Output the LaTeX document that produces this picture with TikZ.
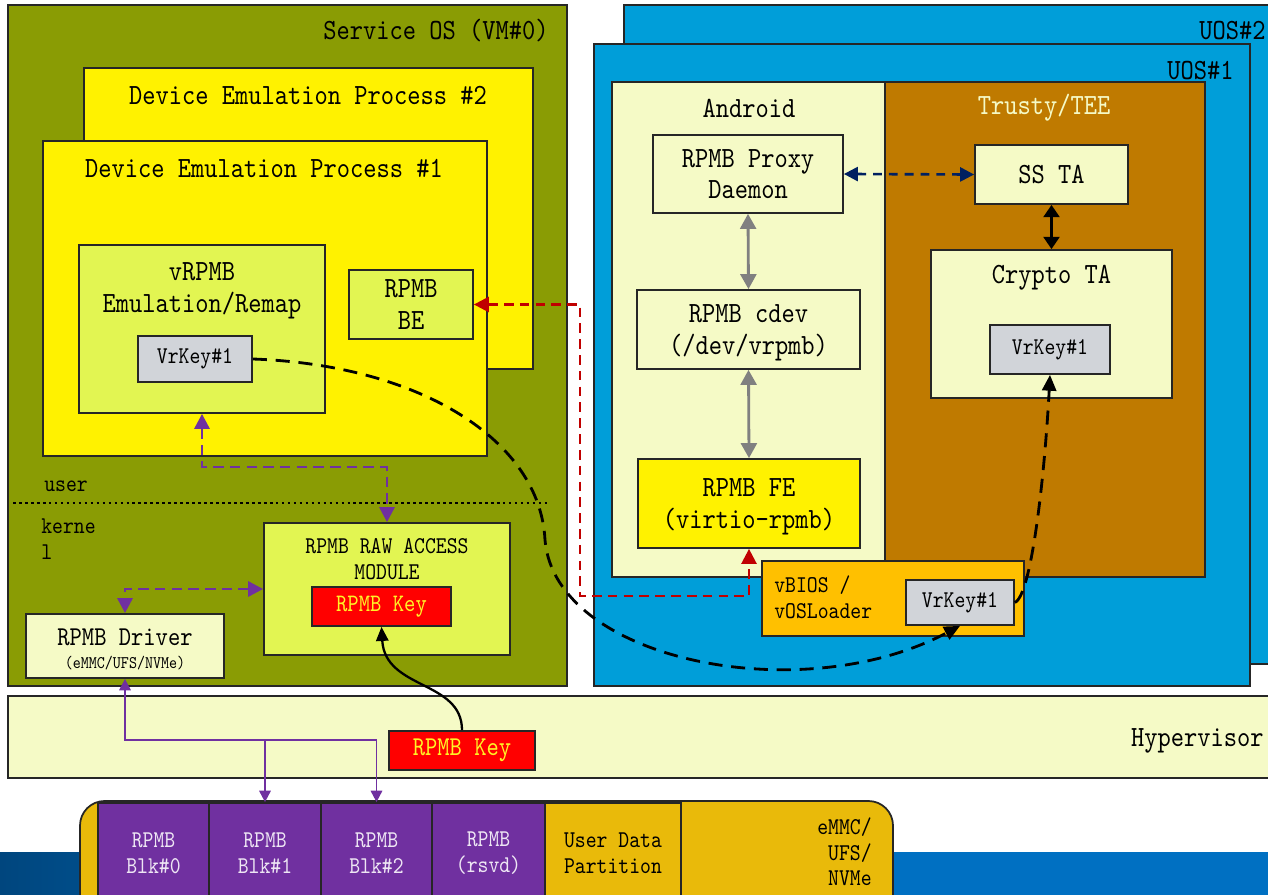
\documentclass[tikz,border=0pt]{standalone}
\usepackage{fontspec}
\setmonofont{lmmono10-regular.otf}[FakeStretch=0.86]
\usetikzlibrary{arrows.meta}

\definecolor{sosgreen}{HTML}{8A9C04}
\definecolor{uosblue}{HTML}{009ED9}
\definecolor{trusty}{HTML}{BF7A00}
\definecolor{cream}{HTML}{F5FAC6}
\definecolor{limey}{HTML}{E2F552}
\definecolor{keygray}{HTML}{D1D4D9}
\definecolor{vbiosorange}{HTML}{FFC000}
\definecolor{gold}{HTML}{E9BA0A}
\definecolor{blkpurple}{HTML}{7030A0}
\definecolor{navy}{HTML}{002060}
\definecolor{darkred}{HTML}{C00000}
\definecolor{bandleft}{HTML}{00467E}
\definecolor{bandright}{HTML}{0070C2}

\newcommand{\pxl}{0.02cm}

\tikzset{
    frame/.style={draw=black!85, line width=1pt},
    box/.style={draw=black!85, line width=1pt, inner sep=0pt, align=center},
    lowtext/.style={text depth=0pt},
    sz/.style 2 args={minimum width=#1*\pxl, minimum height=#2*\pxl},
    bigtxt/.style={font=\fontsize{16.7}{18}\selectfont\ttfamily, inner sep=0pt, align=center},
    midtxt/.style={font=\fontsize{13.7}{14.6}\selectfont\ttfamily, inner sep=0pt, align=center},
    smalltxt/.style={font=\fontsize{10.1}{11}\selectfont\ttfamily, inner sep=0pt, align=center},
    keytxt/.style={font=\fontsize{14.3}{15}\selectfont\ttfamily, text=yellow!85!white},
    grayarr/.style={draw=gray, line width=1.6pt, {Triangle[length=8.5pt,width=9pt]}-{Triangle[length=8.5pt,width=9pt]}},
    reddash/.style={draw=darkred, line width=1.4pt, dash pattern=on 5.5pt off 3.5pt},
    purpdash/.style={draw=blkpurple, line width=1.7pt, dash pattern=on 6pt off 3.5pt},
    purpline/.style={draw=blkpurple, line width=1.1pt},
    keydash/.style={draw=black, line width=1.6pt, dash pattern=on 8pt off 5pt},
    dtip/.tip={Triangle[length=8.5pt,width=8.5pt]},
    ptip/.tip={Triangle[length=6.5pt,width=6.5pt]},
}

\begin{document}
\begin{tikzpicture}[x=0.02cm, y=-0.02cm]
    \clip (0,0) rectangle (1268,895);

    % footer band
    \fill[bandright] (0,852) rectangle (1268,895);
    \shade[left color=bandleft, right color=bandright] (0,852) rectangle (500,895);

    % service OS
    \draw[frame, fill=sosgreen] (8,5) rectangle (567,686);
    \node[bigtxt, anchor=east] (sostitle) at (549,31) {Service OS (VM\#0)};
    \draw[frame, fill=yellow] (84,68) rectangle (533,369);
    \node[bigtxt] (dep2title) at (308,95) {Device Emulation Process \#2};
    \draw[frame, fill=yellow] (43,141) rectangle (487,456);
    \node[bigtxt] (dep1title) at (264,168) {Device Emulation Process \#1};

    \node[box, fill=limey, sz={246}{168}] (vrpmb) at (202,329) {};
    \node[bigtxt] (vrpmbtxt) at (202,291) {vRPMB\\Emulation/Remap};
    \node[box, fill=keygray, sz={114}{46}, midtxt] (vk1) at (195,359) {VrKey\#1};
    \node[box, lowtext, fill=limey, sz={124}{69}, bigtxt] (be) at (411,304.5) {RPMB\\BE};

    % user / kernel split
    \node[midtxt, anchor=west] (usertxt) at (44,486) {user};
    \draw[line width=1.5pt, dash pattern=on 1.5pt off 1.9pt] (13,503) -- (550,503);
    \node[midtxt, anchor=west, align=left] (kerneltxt) at (41,539) {kerne\\l};

    \node[box, fill=limey, sz={246}{132}] (raw) at (387,589) {};
    \node[midtxt] (rawtxt) at (387,559) {RPMB RAW ACCESS\\MODULE};
    \node[box, fill=red, sz={139}{39}, keytxt] (key1) at (381.5,606.5) {RPMB Key};
    \node[box, fill=cream, sz={198}{64}] (drv) at (125,646) {};
    \node[bigtxt, font=\fontsize{15.5}{16}\selectfont\ttfamily] (drvtxt) at (125,637) {RPMB Driver};
    \node[smalltxt] (drvsub) at (125,663) {(eMMC/UFS/NVMe)};

    % user OS
    \draw[frame, fill=uosblue] (624,5) rectangle (1290,664);
    \node[bigtxt, anchor=east] (uos2title) at (1266,31) {UOS\#2};
    \draw[frame, fill=uosblue] (594,44) rectangle (1250,686);
    \node[bigtxt, anchor=east] (uos1title) at (1234,71) {UOS\#1};
    \draw[frame, fill=cream] (612,82) rectangle (885,577);
    \draw[frame, fill=trusty] (885,82) rectangle (1205,577);
    \node[bigtxt] (androidtitle) at (749,108) {Android};
    \node[bigtxt, text=cream] (trustytitle) at (1044,108) {Trusty/TEE};

    \node[box, lowtext, fill=cream, sz={190}{78}, bigtxt] (proxy) at (748,174) {RPMB Proxy\\Daemon};
    \node[box, lowtext, fill=cream, sz={223}{79}, bigtxt] (cdev) at (748.5,329.5) {RPMB cdev\\(/dev/vrpmb)};
    \node[box, lowtext, fill=yellow, sz={222}{89}, bigtxt] (fe) at (749,503.5) {RPMB FE\\(virtio-rpmb)};
    \node[box, fill=cream, sz={153}{59}, bigtxt] (ss) at (1051.5,174.5) {SS TA};
    \node[box, fill=cream, sz={241}{148}] (crypto) at (1051.5,324) {};
    \node[bigtxt] (cryptotxt) at (1051.5,278) {Crypto TA};
    \node[box, fill=keygray, sz={120}{49}, midtxt] (vk2) at (1050,349.5) {VrKey\#1};

    \node[box, fill=vbiosorange, sz={262}{75}] (vbios) at (893,598.5) {};
    \node[midtxt, anchor=west, align=left] (vbiostxt) at (774,597) {vBIOS /\\vOSLoader};
    \node[box, fill=keygray, sz={108}{45}, midtxt] (vk3) at (960,602.5) {VrKey\#1};

    % hypervisor
    \draw[frame, fill=cream] (8,696) rectangle (1290,778);
    \node[bigtxt, anchor=east] (hvtxt) at (1264,741) {Hypervisor};
    \node[box, fill=red, sz={146}{39}, keytxt, font=\fontsize{15.5}{16}\selectfont\ttfamily] (key2) at (462,750.5) {RPMB Key};

    % storage device
    \draw[frame, fill=gold, rounded corners=14pt] (80,801) rectangle (893,930);
    \foreach \nm/\cx/\w/\l in {blk0/153.5/111/Blk\#0, blk1/265/112/Blk\#1,
                               blk2/376.5/111/Blk\#2, rsvd/488.5/113/(rsvd)}
        \node[box, fill=blkpurple, sz={\w}{100}, midtxt, text=blkpurple!12] (\nm) at (\cx,853) {RPMB\\\l};
    \node[box, fill=gold, sz={136}{100}, midtxt] (udp) at (613,853) {User Data\\Partition};
    \node[midtxt, anchor=east, align=right] (devtxt) at (872,852) {eMMC/\\UFS/\\NVMe};

    % connectors
    \draw[grayarr] (proxy.south) -- (cdev.north);
    \draw[grayarr] (cdev.south) -- (fe.north);
    \draw[draw=navy, line width=1.5pt, dash pattern=on 5pt off 4pt, {Triangle[length=8pt,width=8pt]}-{Triangle[length=8pt,width=8pt]}] (proxy.east) -- (ss.west);
    \draw[line width=1.7pt, {Triangle[length=7pt,width=9pt]}-{Triangle[length=7pt,width=9pt]}] (ss.south) -- (crypto.north);

    \draw[reddash, dtip-dtip] (be.east) -| (580,596) -| (fe.south);
    \draw[purpdash, dtip-dtip] (vrpmb.south) |- (387,467) -- (raw.north);
    \draw[purpdash, dtip-dtip] (raw.west) -| (drv.north);

    \coordinate (bus) at (125,740);
    \draw[purpline, ptip-ptip] (drv.south) -- (bus) -| (blk2.north);
    \draw[purpline, -ptip] (bus -| blk1.north) -- (blk1.north);

    \draw[line width=1.3pt, -{Triangle[length=8pt,width=7pt]}] (key2.north) .. controls (462,680) and (385,690) .. (key1.south);
    \draw[keydash, -{Triangle[length=9pt,width=8pt]}] (vk1.east) .. controls (420,365) and (540,440) .. (545,540)
        .. controls (555,660) and (800,710) .. (vk3.south);
    \draw[keydash, -{Triangle[length=9pt,width=8pt]}] (vk3.east) .. controls (1032,595) and (1045,470) .. (vk2.south);
\end{tikzpicture}
\end{document}
